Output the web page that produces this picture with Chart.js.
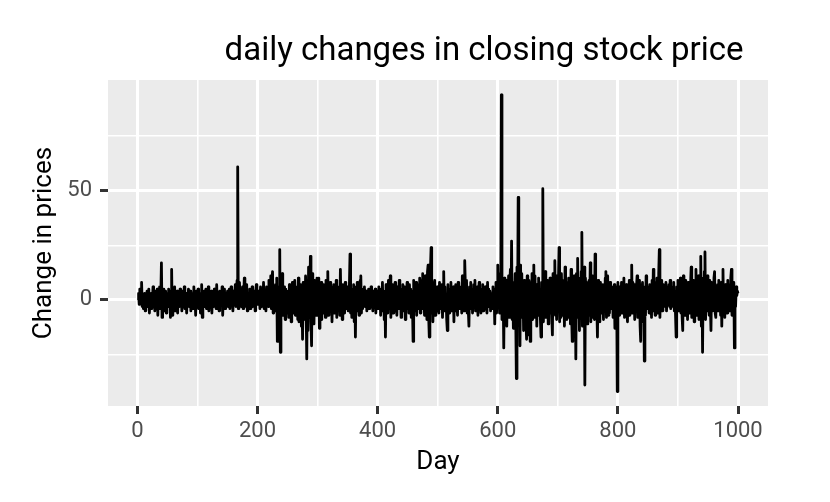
<!DOCTYPE html>
<html>
<head>
<meta charset="utf-8">
<script src="https://cdn.jsdelivr.net/npm/chart.js@4.4.1/dist/chart.umd.min.js"></script>
<style>
  html, body { margin: 0; padding: 0; background: #fff; }
</style>
</head>
<body>
<canvas id="myChart" width="830" height="502"></canvas>
<script>
const chartTitle = "daily changes in closing stock price";
const xTitle = "Day";
const yTitle = "Change in prices";

// daily change in closing price, day 1..1000
const changes = [
  0, 3, -2, 5, -1, 4, 8, -3, 2, -4,  1, 3, -5, 2, -2, 4, -3, 1, 5, -6,  2, -1, 3, -4, 0, 6, -3, 2, -5, 4,  -2, 1, 5, -7, 3, -2, 6, -4, 2, 17,  -8, 3, -1, 5, -5, 2, 4, -6, 1, 3,
  -3, 5, -2, 4, -8, 2, 14, -7, 3, -4,  1, 6, -5, 2, -2, 4, -6, 3, 1, -3,  5, -2, 2, -5, 4, 0, -3, 6, -4, 1,  3, -6, 2, -1, 5, -3, 1, 4, -5, 2,  -2, 3, -4, 6, -3, 1, -7, 4, 2, -3,
  5, -4, 1, 3, -6, 2, 7, -8, 3, -2,  4, -3, 1, 5, -4, 2, -1, 6, -5, 3,  -2, 1, 4, -6, 2, 0, -3, 5, -2, 3,  -4, 7, -3, 1, 2, -5, 4, -2, 3, -1,  6, -7, 2, -3, 5, -4, 1, 3, -2, 4,
  -3, 2, 5, -4, 1, 6, -2, 3, -5, 4,  -1, 2, 7, -3, 5, 9, 61, -4, 3, 8,  -2, 5, -3, 1, 6, -4, 2, 10, -3, 4,  -1, 7, -5, 3, 2, -2, 5, -4, 3, 1,  6, -3, 2, -1, 4, -5, 3, 7, -2, 1,
  4, -2, 3, -4, 6, 1, -3, 5, -2, 8,  -4, 2, 3, -5, 6, -1, 4, -3, 9, -2,  5, 11, -4, 8, 13, -6, 4, 2, -5, 7,  -3, 10, -19, 6, -8, 4, 23, -24, 9, -5,  12, -7, 3, -4, 6, -9, 5, -3, 2, -6,
  4, -8, 7, -3, 5, -10, 3, 8, -6, 2,  -4, 9, -7, 5, -2, 6, -9, 10, -10, 4,  -5, 7, -12, 3, -18, 8, -4, 6, -9, 11,  -6, -27, 9, -14, 15, 6, -8, 20, -10, -21,  12, -8, 5, -11, 9, -6, 4, -7, 10, -5,
  3, 10, -13, 6, -4, 8, -9, 5, -2, 7,  -6, 4, -8, 9, -3, 5, 13, -7, 2, -5,  8, -4, 6, -10, 3, -2, 7, -6, 4, -3,  9, -8, 5, -4, 2, 6, -7, 14, -5, 3,  -9, 7, -2, 4, -6, 8, -4, 2, -3, 6,
  -5, 3, 7, 21, -6, 4, -8, 5, -3, 7,  -10, 4, -17, 6, -2, 8, -5, 3, -7, 4,  9, 11, -6, 3, -4, 5, -2, 6, -3, 1,  4, -5, 3, -2, 5, -4, 2, -1, 6, -3,  2, -5, 4, 1, -3, 5, -6, 3, -2, 4,
  -4, 6, -2, 3, -7, 5, -3, 8, -5, 2,  -9, 4, -17, 7, -3, 5, -6, 9, -4, 3,  11, -8, 5, -2, 7, -6, 4, -3, 8, -5,  2, -7, 6, -4, 3, 9, -2, 5, -8, 4,  -3, 7, -5, 2, 6, -9, 4, -1, 8, -4,
  3, -6, 7, -3, 5, -8, 4, -2, -19, 9,  -5, 6, -3, 8, -7, 4, -4, 7, -2, 10,  -6, 5, 9, -4, 12, -3, 8, -7, 11, -5,  6, -9, 13, 16, -8, -17, 10, 15, 24, -6,  8, -10, 5, -3, 9, -7, 4, -2, 6, -5,
  3, -6, 8, -4, 5, -2, 7, -8, 4, 13,  -5, 6, -3, 2, -9, -14, 7, -4, 5, -6,  3, 8, -5, 2, -3, 6, -10, 4, -2, 7,  -5, 3, -7, 8, -3, 5, -4, 2, 6, -6,  11, -3, 4, -5, 18, 7, -4, 9, -6, 3,
  -5, -12, 6, -3, 8, -4, 5, -6, 2, 7,  -3, 9, -5, 4, -2, 6, -7, 3, 8, -4,  2, -6, 5, -3, 7, -5, 4, -2, 6, -4,  3, -6, 8, -3, 5, -2, 4, -5, 3, 1,  -4, 6, -3, 2, -11, 5, 8, -6, 3, 16,
  -3, 8, -6, 12, -4, 94, -9, 5, 3, -22,  10, -7, 4, 9, -12, 6, -5, 11, -8, 7,  14, -6, 27, -9, 5, -13, 8, -4, 12, -10,  -36, 15, -6, 47, -11, 9, -21, 16, -8, 12,  -5, 7, -14, 9, -4, 6, -10, -18, 11, -7,
  9, -16, 5, -19, 8, -6, 12, -9, 4, 16,  -8, 11, -5, 7, -12, 6, -4, 10, -7, 5,  -9, -17, 8, -6, 51, -10, 7, -5, 13, -8,  6, -4, 9, -11, 7, -6, 10, -4, 5, -8,  -16, 12, -6, 9, 18, -7, 11, -9, 6, -5,
  8, 24, -10, 6, -8, 12, -5, 9, -7, 4,  -12, 15, -6, 8, -9, 5, -3, 10, -8, 6,  -11, 14, -7, -19, 9, -5, 11, -13, 7, -27,  12, -8, 19, -6, 10, -14, 8, -5, 13, 31,  -12, 7, -9, 15, -39, 10, -6, 8, -11, 6,
  -7, 9, -4, 17, -10, 6, -8, 11, -5, 7,  -9, 21, -6, 8, -4, -17, 9, -7, 5, -10,  8, -6, 4, -3, 7, -9, 6, -5, 10, 13,  -8, 5, 11, -7, 4, -6, 8, -4, 6, -3,  5, -8, 4, 7, -13, 6, -5, 3, -42, 8,
  -4, 6, -7, 5, -3, 8, -6, 4, -5, 10,  -8, 6, -3, 7, -5, -10, 6, -4, 9, -7,  5, 3, 16, -6, 8, -4, 7, -9, 5, -3,  6, 11, -8, 4, -6, 9, -12, -19, 7, -5,  8, -10, 6, -28, 5, -7, 11, -4, 6, -3,
  4, -6, 7, -3, 5, -8, 9, -4, 14, -5,  6, -7, 8, -3, 10, -6, 5, 12, 23, -8,  6, -4, 9, -5, 3, 7, -2, 5, -3, 8,  -5, 6, -2, 4, 7, -3, 9, -4, 5, -1,  6, -3, 8, -5, 4, -7, -17, 6, -4, 9,
  -5, 7, -3, 10, -6, 5, -8, -14, 11, -4,  6, -7, 9, -3, 5, -9, 8, -5, 4, -6,  7, 15, -8, 6, -4, 9, -10, 5, -3, 14,  -7, 8, -5, 11, -9, 6, -4, 20, -12, 8,  -24, 10, -6, 13, 22, -9, 7, -5, 11, -4,
  6, -7, 9, -3, -14, 8, -5, 6, -4, 10,  13, -6, -8, 5, -3, 7, -5, 9, -4, 6,  -7, 8, -12, 5, 14, -6, 4, -8, 7, -3,  5, -6, 9, -4, 7, -5, 3, 10, 14, -7,  6, -4, 8, -22, 5, -3, 6, 2, 4, 3
];
const days = changes.map((v, i) => i + 1);

const xTicks = [0, 100, 200, 300, 400, 500, 600, 700, 800, 900, 1000];
const yTicks = [-25, 0, 25, 50, 75];

const FONT = "Roboto";

const panelBg = {
  id: 'panelBg',
  beforeDraw(chart) {
    const {ctx, chartArea} = chart;
    ctx.save();
    ctx.fillStyle = '#ffffff';
    ctx.fillRect(0, 0, chart.width, chart.height);
    ctx.fillStyle = '#EBEBEB';
    ctx.fillRect(chartArea.left, chartArea.top, chartArea.right - chartArea.left, chartArea.bottom - chartArea.top);
    ctx.restore();
  }
};

const plotTitle = {
  id: 'plotTitle',
  afterDraw(chart) {
    const ctx = chart.ctx;
    ctx.save();
    ctx.fillStyle = '#000000';
    ctx.font = '33px ' + FONT;
    ctx.textAlign = 'center';
    ctx.textBaseline = 'alphabetic';
    ctx.fillText(chartTitle, 484, 60);
    ctx.restore();
  }
};

const isMajorX = (c) => c.tick && c.tick.value % 200 === 0;
const isMajorY = (c) => c.tick && c.tick.value % 50 === 0;

const ctx = document.getElementById('myChart').getContext('2d');
const myChart = new Chart(ctx, {
  type: 'line',
  data: {
    datasets: [{
      data: days.map((d, i) => ({x: d, y: changes[i]})),
      borderColor: '#000000',
      borderWidth: 2.8,
      borderJoinStyle: 'round',
      pointRadius: 0,
      fill: false,
      tension: 0
    }]
  },
  options: {
    responsive: false,
    animation: false,
    layout: { padding: { left: 0, top: 80, right: 62, bottom: 0 } },
    plugins: {
      legend: { display: false },
      tooltip: { enabled: false }
    },
    scales: {
      x: {
        type: 'linear',
        min: -48.95,
        max: 1049.95,
        afterBuildTicks: (scale) => { scale.ticks = xTicks.map(v => ({value: v})); },
        afterFit: (scale) => { scale.height = 96; },
        border: { display: false },
        grid: {
          color: '#ffffff',
          lineWidth: (c) => (isMajorX(c) ? 3 : 1.6),
          drawTicks: true,
          tickLength: 8,
          tickWidth: 3,
          tickColor: (c) => (isMajorX(c) ? '#333333' : 'rgba(0,0,0,0)')
        },
        ticks: {
          autoSkip: false,
          maxRotation: 0,
          padding: 4,
          color: '#4D4D4D',
          font: { family: FONT, size: 22 },
          callback: (v) => (v % 200 === 0 ? String(v) : '')
        },
        title: {
          display: true,
          text: xTitle,
          color: '#000000',
          font: { family: FONT, size: 26 },
          padding: { top: 0, bottom: 24 }
        }
      },
      y: {
        type: 'linear',
        min: -48.6,
        max: 100.8,
        afterBuildTicks: (scale) => { scale.ticks = yTicks.map(v => ({value: v})); },
        afterFit: (scale) => { scale.width = 108; },
        border: { display: false },
        grid: {
          color: '#ffffff',
          lineWidth: (c) => (isMajorY(c) ? 3 : 1.6),
          drawTicks: true,
          tickLength: 8,
          tickWidth: 3,
          tickColor: (c) => (isMajorY(c) ? '#333333' : 'rgba(0,0,0,0)')
        },
        ticks: {
          autoSkip: false,
          padding: 8,
          color: '#4D4D4D',
          font: { family: FONT, size: 22 },
          callback: (v) => (v % 50 === 0 ? String(v) : '')
        },
        title: {
          display: true,
          text: yTitle,
          color: '#000000',
          font: { family: FONT, size: 26 },
          padding: { top: 29, bottom: 0 }
        }
      }
    }
  },
  plugins: [panelBg, plotTitle]
});
</script>
</body>
</html>
